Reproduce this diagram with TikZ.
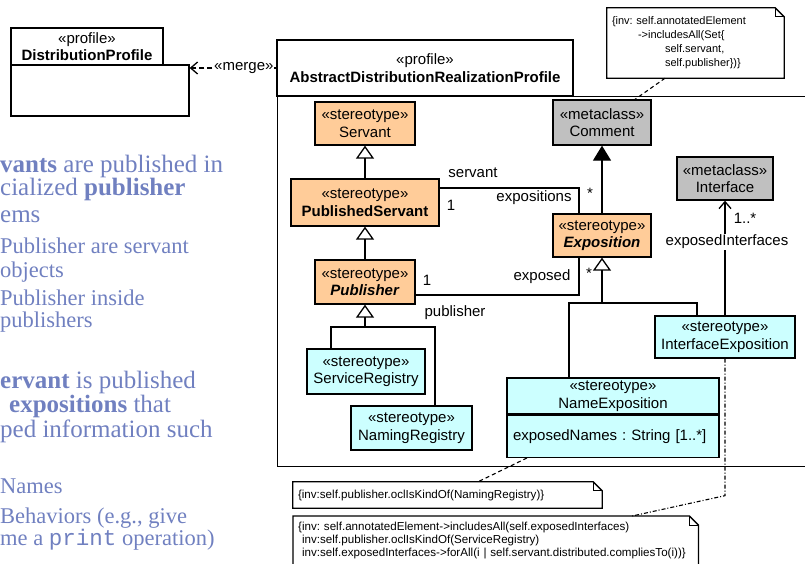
\documentclass[tikz,border=0pt]{standalone}
\usepackage{fontspec}
\setmainfont{Liberation Sans}
\setmonofont{Liberation Mono}
\newfontfamily\slidefont{Liberation Serif}
\usetikzlibrary{arrows.meta,positioning}
\frenchspacing

\definecolor{stereo}{HTML}{FFCC99}
\definecolor{registry}{HTML}{CCFFFF}
\definecolor{metaclass}{HTML}{C0C0C0}
\definecolor{slideblue}{RGB}{112,128,192}

\tikzset{
  umlbox/.style={draw, line width=1.3pt, align=center, inner sep=1pt,
    font=\fontsize{15}{17.5}\selectfont},
  stereobox/.style={umlbox, fill=stereo},
  regbox/.style={umlbox, fill=registry},
  metabox/.style={umlbox, fill=metaclass},
  umlnote/.style={align=left, inner xsep=5pt, inner ysep=2pt,
    font=\fontsize{11.6}{13}\selectfont},
  rolelabel/.style={font=\fontsize{15}{16}\selectfont, inner sep=1pt},
  assoc/.style={line width=1.3pt},
  gen/.style={assoc, -{Triangle[open,length=13pt,width=18pt]}},
  ext/.style={assoc, -{Triangle[length=15pt,width=18pt]}},
  nav/.style={assoc, -{Straight Barb[length=7pt,width=12pt]}},
  anchorline/.style={line width=1.1pt, dash pattern=on 4pt off 3pt},
  slidetext/.style={anchor=base west, inner sep=0pt, text=slideblue,
    font=\slidefont\fontsize{25}{28}\selectfont},
  slidesub/.style={slidetext, font=\slidefont\fontsize{22.5}{25}\selectfont},
}

\begin{document}
\begin{tikzpicture}[x=1pt,y=-1pt]
\useasboundingbox (0,0) rectangle (805,563);
\clip (0,0) rectangle (805,563);

% slide text on the left
\foreach \y/\txt [count=\i] in {172/{\textbf{vants} are published in},
    195.5/{cialized \textbf{publisher}}, 222/{ems},
    388/{\textbf{ervant} is published}, 437/{ped information such}}
  \node[slidetext] (main\i) at (0,\y) {\txt};
\node[slidetext] (main6) at (9,412) {\textbf{expositions} that};
\foreach \y/\txt [count=\i] in {253/{Publisher are servant}, 277/{objects},
    305/{Publisher inside}, 327/{publishers}, 493/{Names},
    523/{Behaviors (e.g., give}, 545/{me a \texttt{print} operation)}}
  \node[slidesub] (sub\i) at (0,\y) {\txt};

% packages
\node[umlbox, minimum width=152pt, minimum height=37pt] (dptab) at (87,46.5)
  {«profile»\\[-1pt]\textbf{DistributionProfile}};
\node[umlbox, minimum width=178pt, minimum height=51pt] (dpbody) at (100,90.5) {};
\node[umlbox, minimum width=296pt, minimum height=56pt] (abstab) at (425,68)
  {«profile»\\[1pt]\textbf{AbstractDistributionRealizationProfile}};
\node[umlbox, minimum width=540pt, minimum height=370pt, anchor=north west]
  (absbody) at (277,96) {};
\draw[nav, dash pattern=on 5pt off 3pt] (abstab.west) --
  node[rolelabel, fill=white, pos=0.375] (merge) {«merge»}
  (abstab.west -| dpbody.east);

% stereotypes
\node[stereobox, minimum width=100pt, minimum height=43pt] (servant) at (365,123.5)
  {«stereotype»\\Servant};
\node[stereobox, minimum width=148pt, minimum height=47pt] (pubserv) at (365,202.5)
  {«stereotype»\\\textbf{PublishedServant}};
\node[stereobox, minimum width=100pt, minimum height=44pt] (publisher) at (365,282)
  {«stereotype»\\\textbf{\textit{Publisher}}};
\node[regbox, minimum width=118pt, minimum height=45pt] (sreg) at (366,371.5)
  {«stereotype»\\ServiceRegistry};
\node[regbox, minimum width=121pt, minimum height=44pt] (nreg) at (411.5,428)
  {«stereotype»\\NamingRegistry};
\node[metabox, minimum width=98pt, minimum height=45pt] (comment) at (602,122.5)
  {«metaclass»\\Comment};
\node[stereobox, minimum width=98pt, minimum height=43pt] (expo) at (602,235.5)
  {«stereotype»\\\textbf{\textit{Exposition}}};
\node[metabox, minimum width=96pt, minimum height=43pt] (iface) at (725,178.5)
  {«metaclass»\\Interface};
\node[regbox, minimum width=140pt, minimum height=42pt] (iexpo) at (725,337)
  {«stereotype»\\InterfaceExposition};
\node[regbox, minimum width=212pt, minimum height=36pt] (nexpo) at (613,396)
  {«stereotype»\\NameExposition};
\node[regbox, text width=200pt, align=left, inner xsep=6pt, minimum height=42pt,
  anchor=north] (nexpoattr) at (nexpo.south) {\mbox{exposedNames : String [1..*]}};

% generalizations and extension
\draw[gen] (pubserv.north) -- (servant.south);
\draw[gen] (publisher.north) -- (pubserv.south);
\coordinate (pubfork) at (365,327);
\draw[assoc] ([xshift=-35pt]sreg.north) |- (pubfork) -| ([xshift=23.5pt]nreg.north);
\draw[gen] (pubfork) -- (publisher.south);
\coordinate (expofork) at (602,303);
\draw[assoc] ([xshift=-44pt]nexpo.north) |- (expofork) -| ([xshift=-28pt]iexpo.north);
\draw[gen] (expofork) -- (expo.south);
\draw[ext] (expo.north) -- (comment.south);

% associations
\draw[assoc] ([yshift=14.5pt]pubserv.east) -| ([xshift=-23pt]expo.north);
\node[rolelabel] (lservant) at (473,173) {servant};
\node[rolelabel] (lservone) at (451,205) {1};
\node[rolelabel] (lexpos) at (534,198) {expositions};
\node[rolelabel] (lexposm) at (590,193) {*};
\draw[assoc] ([yshift=-13pt]publisher.east) -| ([xshift=-23pt]expo.south);
\node[rolelabel] (lpubone) at (427,280) {1};
\node[rolelabel] (lexposed) at (542,277) {exposed};
\node[rolelabel] (lexposedm) at (589,273) {*};
\node[rolelabel] (lpublisher) at (455,313) {publisher};
\draw[nav] (iexpo.north) -- (iface.south);
\node[rolelabel] (lifacem) at (745,218) {1..*};
\node[rolelabel, fill=white] (lifaces) at (727,242) {exposedInterfaces};

% constraints
\node[umlnote, font=\fontsize{11}{14}\selectfont, text width=167pt,
  minimum height=70pt] (topnote) at (695.5,43)
  {\{inv: self.annotatedElement\\
   \hspace*{26pt}->includesAll(Set\{\\
   \hspace*{53pt}self.servant,\\
   \hspace*{53pt}self.publisher\})\}};
\node[umlnote, text width=299pt, minimum height=26pt] (nnote) at (447.5,495)
  {\{inv:self.publisher.oclIsKindOf(NamingRegistry)\}};
\node[umlnote, text width=395pt, inner ysep=6pt, anchor=north west] (inote) at (293,516)
  {\{inv: self.annotatedElement->includesAll(self.exposedInterfaces)\\
   \phantom{\{}inv:self.publisher.oclIsKindOf(ServiceRegistry)\\
   \phantom{\{}inv:self.exposedInterfaces->forAll(i | self.servant.distributed.compliesTo(i))\}};
\foreach \n/\ext in {topnote/0,nnote/0,inote/20} {
  \draw[line width=1.3pt] (\n.north west) -- ([xshift=-9pt]\n.north east)
    -- ([yshift=-9pt]\n.north east) -- ([yshift=-\ext pt]\n.south east)
    -- ([yshift=-\ext pt]\n.south west) -- cycle;
  \draw[line width=0.8pt] ([xshift=-9pt]\n.north east) |- ([yshift=-9pt]\n.north east);
}
\draw[anchorline] ([xshift=-30.5pt]topnote.south) -- ([xshift=33pt]comment.north);
\draw[anchorline] ([xshift=-86pt]nexpoattr.south) -- ([xshift=30.5pt]nnote.north);
\draw[anchorline, dash pattern=on 4pt off 2pt on 1pt off 2pt] (iexpo.south)
  -- ++(0,137) -- ([xshift=136.5pt]inote.north);
\end{tikzpicture}
\end{document}
